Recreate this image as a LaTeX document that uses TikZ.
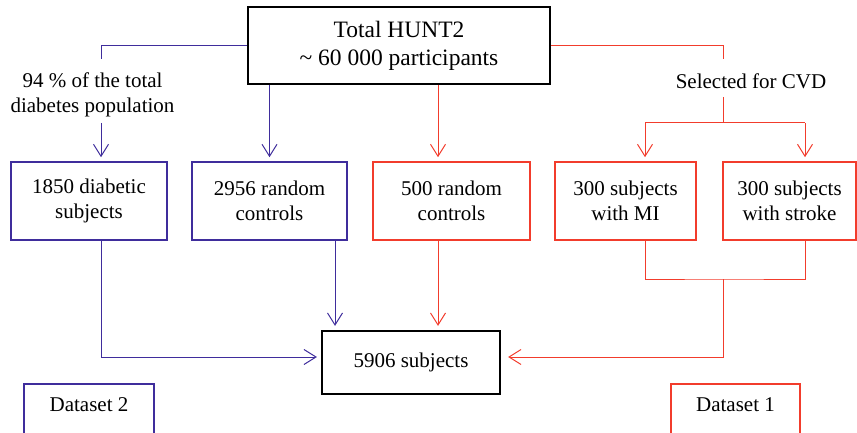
\documentclass[tikz,border=0pt]{standalone}
\usepackage{fontspec}
\setmainfont{Liberation Serif}
\usetikzlibrary{arrows.meta}
\definecolor{bluC}{HTML}{3F2D9C}
\definecolor{redC}{HTML}{F23C2C}
\begin{document}
\begin{tikzpicture}[x=1pt,y=-1pt,
  box/.style={draw, rectangle, inner sep=0pt, align=center, font=\fontsize{21}{25}\selectfont},
  bbox/.style={box, draw=bluC, line width=1.6pt},
  rbox/.style={box, draw=redC, line width=1.6pt},
  kbox/.style={box, draw=black, line width=2.2pt},
  lbl/.style={inner sep=0pt, align=center, font=\fontsize{21}{25}\selectfont},
  conn/.style={line width=1pt},
  arr/.style={conn, -{Straight Barb[length=12pt,width=15pt]}, shorten >=4pt},
]
\useasboundingbox (0,0) rectangle (857,433);
\clip (0,0) rectangle (857,433);

\node[kbox, minimum width=302pt, minimum height=77pt, font=\fontsize{23.5}{28}\selectfont] (top) at (399,45.5) {Total HUNT2\\\textasciitilde{} 60 000 participants};

\node[bbox, minimum width=156pt, minimum height=78pt] (b1) at (89,201) {1850 diabetic\\subjects};
\node[bbox, minimum width=155pt, minimum height=78pt] (b2) at (269.5,201) {2956 random\\controls};
\node[rbox, minimum width=157pt, minimum height=78pt] (b3) at (451.5,201) {500 random\\controls};
\node[rbox, minimum width=141pt, minimum height=78pt] (b4) at (625.5,201) {300 subjects\\with MI};
\node[rbox, minimum width=133pt, minimum height=78pt] (b5) at (789.5,201) {300 subjects\\with stroke};

\node[kbox, minimum width=178pt, minimum height=63pt] (res) at (411,362.5) {5906 subjects};

\node[lbl] (lab1) at (92.5,95) {94 \% of the total\\diabetes population};
\node[lbl] (lab2) at (751,81) {Selected for CVD};

\node[bbox, minimum width=130pt, minimum height=100pt, anchor=north] (ds2) at (89,383) {};
\node[lbl] (ds2t) at (89,405) {Dataset 2};
\node[rbox, minimum width=129pt, minimum height=100pt, anchor=north] (ds1) at (735.5,383) {};
\node[lbl] (ds1t) at (735.5,405) {Dataset 1};

% coordinates
\coordinate (l1a) at (101,59);
\coordinate (l1b) at (101,123);
\coordinate (xr) at (438,0);
\coordinate (xb) at (335,0);
\coordinate (r1a) at (723,59);
\coordinate (r1b) at (723,97);
\coordinate (r1c) at (723,123);
\coordinate (r4) at (645,123);
\coordinate (r5) at (805,123);
\coordinate (jl) at (101,357);
\coordinate (jr) at (723,279);

% top to first row
\draw[conn,bluC] (top.west) -| (l1a);
\draw[arr,bluC] (l1b) -- (l1b |- b1.north);
\draw[arr,bluC] (b2.north |- top.south) -- (b2.north);
\draw[arr,redC] (top.south -| xr) -- (b3.north -| xr);
\draw[conn,redC] (top.east) -| (r1a);
\draw[conn,redC] (r1b) -- (r1c);
\draw[conn,redC] (r4) -- (r5);
\draw[arr,redC] (r4) -- (r4 |- b4.north);
\draw[arr,redC] (r5) -- (r5 |- b5.north);

% first row to result
\draw[arr,bluC] (b1.south -| jl) -- (jl) -- (jl -| res.west);
\draw[arr,bluC] (b2.south -| xb) -- (res.north -| xb);
\draw[arr,redC] (b3.south -| xr) -- (res.north -| xr);
\draw[conn,redC] (b4.south -| r4) |- (jr) -| (b5.south -| r5);
\draw[arr,redC,shorten >=7pt] (jr) |- (res.east |- jl);
\end{tikzpicture}
\end{document}
